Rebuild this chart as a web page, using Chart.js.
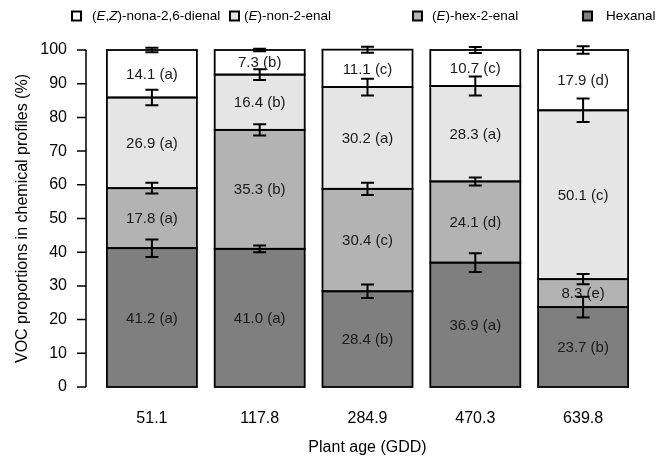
<!DOCTYPE html>
<html>
<head>
<meta charset="utf-8">
<script src="https://cdn.jsdelivr.net/npm/chart.js@4.4.1/dist/chart.umd.min.js"></script>
<style>
    html, body { margin: 0; padding: 0; background: #fff; }
</style>
</head>
<body>
<canvas id="myChart" width="664" height="470"></canvas>
<script>
// Plant age (GDD) categories
const plantAge = ['51.1', '117.8', '284.9', '470.3', '639.8'];

// VOC proportions (%), bottom to top of each stack
const hexanal = [41.2, 41.0, 28.4, 36.9, 23.7];
const hexenal = [17.8, 35.3, 30.4, 24.1, 8.3];
const nonenal = [26.9, 16.4, 30.2, 28.3, 50.1];
const nonadienal = [14.1, 7.3, 11.1, 10.7, 17.9];

// Error bar half-lengths (%)
const hexanalErr = [2.6, 1.0, 2.0, 2.8, 3.1];
const hexenalErr = [1.6, 1.7, 1.8, 1.2, 1.5];
const nonenalErr = [2.3, 1.6, 2.5, 2.8, 3.5];
const nonadienalErr = [0.7, 0.4, 0.9, 0.9, 1.1];

// Significance letters
const hexanalLetters = ['a', 'a', 'b', 'a', 'b'];
const hexenalLetters = ['a', 'b', 'c', 'd', 'e'];
const nonenalLetters = ['a', 'b', 'a', 'a', 'c'];
const nonadienalLetters = ['a', 'b', 'c', 'c', 'd'];

const yTicks = [0, 10, 20, 30, 40, 50, 60, 70, 80, 90, 100];

// Legend texts, with italic parts marked
const legendLabels = [
    [['(', false], ['E', true], [',', false], ['Z', true], [')-nona-2,6-dienal', false]],
    [['(', false], ['E', true], [')-non-2-enal', false]],
    [['(', false], ['E', true], [')-hex-2-enal', false]],
    [['Hexanal', false]]
];

const FONT = '"Liberation Sans", Arial, sans-serif';
const colors = ['#7f7f7f', '#b3b3b3', '#e5e5e5', '#ffffff'];

const seriesValues = [hexanal, hexenal, nonenal, nonadienal];
const seriesErrors = [hexanalErr, hexenalErr, nonenalErr, nonadienalErr];
const seriesLetters = [hexanalLetters, hexenalLetters, nonenalLetters, nonadienalLetters];
const seriesNames = ['Hexanal', '(E)-hex-2-enal', '(E)-non-2-enal', '(E,Z)-nona-2,6-dienal'];

// Draws the R-style y axis line, detached from the bars
const yAxisPlugin = {
    id: 'yAxisLine',
    afterDraw(chart) {
        const ctx = chart.ctx;
        const y = chart.scales.y;
        const x0 = 86;
        ctx.save();
        ctx.strokeStyle = '#000';
        ctx.lineWidth = 1.5;
        ctx.beginPath();
        ctx.moveTo(x0, y.getPixelForValue(0));
        ctx.lineTo(x0, y.getPixelForValue(100));
        yTicks.forEach(t => {
            const py = y.getPixelForValue(t);
            ctx.moveTo(x0 - 9, py);
            ctx.lineTo(x0, py);
        });
        ctx.stroke();
        ctx.restore();
    }
};

// Outlines, value labels and error bars on every segment
const segmentPlugin = {
    id: 'segments',
    afterDatasetsDraw(chart) {
        const ctx = chart.ctx;
        const yScale = chart.scales.y;
        ctx.save();

        // segment outlines, centred on the boundaries
        ctx.strokeStyle = '#000';
        ctx.lineWidth = 1.8;
        seriesValues.forEach((vals, d) => {
            chart.getDatasetMeta(d).data.forEach(bar => {
                const top = Math.min(bar.y, bar.base);
                ctx.strokeRect(bar.x - bar.width / 2, top, bar.width, Math.abs(bar.base - bar.y));
            });
        });

        ctx.font = '15px ' + FONT;
        ctx.fillStyle = '#1a1a1a';
        ctx.textAlign = 'center';
        ctx.textBaseline = 'middle';
        seriesValues.forEach((vals, d) => {
            chart.getDatasetMeta(d).data.forEach((bar, i) => {
                const cy = (bar.y + bar.base) / 2;
                ctx.fillText(vals[i].toFixed(1) + ' (' + seriesLetters[d][i] + ')', bar.x, cy + 1);
            });
        });

        ctx.lineWidth = 2;
        seriesValues.forEach((vals, d) => {
            chart.getDatasetMeta(d).data.forEach((bar, i) => {
                let cum = 0;
                for (let k = 0; k <= d; k++) cum += seriesValues[k][i];
                const err = seriesErrors[d][i];
                const top = yScale.getPixelForValue(cum + err);
                const bot = yScale.getPixelForValue(cum - err);
                ctx.beginPath();
                ctx.moveTo(bar.x, top);
                ctx.lineTo(bar.x, bot);
                ctx.moveTo(bar.x - 6.5, top);
                ctx.lineTo(bar.x + 6.5, top);
                ctx.moveTo(bar.x - 6.5, bot);
                ctx.lineTo(bar.x + 6.5, bot);
                ctx.stroke();
            });
        });
        ctx.restore();
    }
};

// Legend row on top, with italic isomer letters
const legendPlugin = {
    id: 'richLegend',
    afterDraw(chart) {
        const ctx = chart.ctx;
        const boxX = [72, 230, 413, 583];
        const textX = [92, 244, 432, 606];
        const fills = [colors[3], colors[2], colors[1], colors[0]];
        const cy = 16;
        ctx.save();
        ctx.textBaseline = 'middle';
        legendLabels.forEach((parts, n) => {
            ctx.fillStyle = fills[n];
            ctx.fillRect(boxX[n], cy - 4.5, 9, 9);
            ctx.strokeStyle = '#000';
            ctx.lineWidth = 2;
            ctx.strokeRect(boxX[n], cy - 4.5, 9, 9);
            let x = textX[n];
            ctx.fillStyle = '#000';
            parts.forEach(([txt, italic]) => {
                ctx.font = (italic ? 'italic ' : '') + '13.5px ' + FONT;
                ctx.fillText(txt, x, cy);
                x += ctx.measureText(txt).width;
            });
        });
        ctx.restore();
    }
};

function getChartData() {
    return {
        labels: plantAge,
        datasets: seriesValues.map((vals, d) => ({
            label: seriesNames[d],
            data: vals,
            backgroundColor: colors[d],
            borderWidth: 0,
            categoryPercentage: 1,
            barPercentage: 0.835
        }))
    };
}

function getChartOptions() {
    return {
        responsive: false,
        animation: false,
        layout: { padding: { top: 50, right: 27, bottom: 0, left: 0 } },
        plugins: {
            legend: { display: false },
            tooltip: { enabled: false }
        },
        scales: {
            x: {
                stacked: true,
                grid: { display: false, drawTicks: false },
                border: { display: false },
                ticks: { color: '#000', padding: 22, font: { size: 16, family: FONT } },
                title: {
                    display: true,
                    text: 'Plant age (GDD)',
                    color: '#000',
                    font: { size: 16, family: FONT },
                    padding: { top: 0, bottom: 13 }
                },
                afterFit(scale) { scale.height = 83; }
            },
            y: {
                stacked: true,
                min: 0,
                max: 100,
                grid: { display: false, drawTicks: false },
                border: { display: false },
                ticks: { stepSize: 10, color: '#000', padding: 31, font: { size: 16, family: FONT } },
                title: {
                    display: true,
                    text: 'VOC proportions in chemical profiles (%)',
                    color: '#000',
                    font: { size: 16, family: FONT },
                    padding: { top: 13, bottom: 0 }
                },
                afterFit(scale) { scale.width = 98; }
            }
        }
    };
}

const ctx = document.getElementById('myChart').getContext('2d');
window.myChart = new Chart(ctx, {
    type: 'bar',
    data: getChartData(),
    options: getChartOptions(),
    plugins: [yAxisPlugin, segmentPlugin, legendPlugin]
});
</script>
</body>
</html>
